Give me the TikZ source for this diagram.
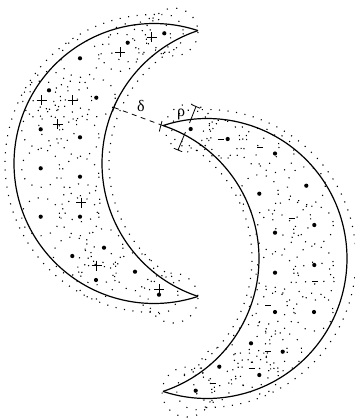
\documentclass[tikz,border=0pt]{standalone}
\usepackage{fontspec}
\newfontfamily\greekfont{Liberation Serif}
\begin{document}
\begin{tikzpicture}[x=1pt,y=-1pt,
  arcline/.style={line width=1.2pt},
  dotline/.style={line width=1.1pt, dash pattern=on 1.1pt off 8.5pt},
  envline/.style={line width=1.1pt, dash pattern=on 1.1pt off 7.5pt},
  dimline/.style={line width=0.8pt},
  chargemark/.style={line width=0.9pt},
  dashline/.style={line width=0.8pt, dash pattern=on 5pt off 4.5pt},
  lbl/.style={inner sep=0pt, font=\greekfont\fontsize{16}{18}\selectfont}]
\useasboundingbox (0,0) rectangle (354,418);
% dotted circles around points
\foreach \x/\y in {164.3/33.3,127.7/42.7,80/58.3,49/90.3,96.3/97.7,40.7/129.3,80/137.3,40.7/168.3,80/176.7,80/216.7,40.7/216.7,104/247.7,72.3/256,96/280,135/271.7,159/294.7,
  151.7/37.3,120/52.3,41.7/100,72.7/100,57.7/124,81/202.7,96.7/265.7,
  190.7/129,227.7/139,275/153.5,306.3/185.7,259.3/193.7,314.3/225,275/232.7,314.3/265,275/272.7,275/312,314/312,251/343.3,282.7/351.7,219.3/366.7,259.3/375,195.7/390.7,
  220.7/139,260/147,291.7/218.3,315/281,268.3/305,268.3/351.7,251.7/368.3,212.7/383.3}
  \draw[dotline] (\x,\y) circle[radius=19];
% tip caps
\draw[dotline] (174,32) circle[radius=24];
\draw[dotline] (173,298) circle[radius=25];
\draw[dotline] (187,392) circle[radius=25];
\draw[dotline] (189,128) circle[radius=24];
% envelopes
\draw[envline] plot[domain=88:272, samples=90] ({154+149*cos(\x)},{163.5+149*sin(\x)});
\draw[envline] plot[domain=118:242, samples=70] ({242+133*cos(\x)},{163.5+133*sin(\x)});
\draw[envline] plot[domain=-92:92, samples=90] ({207+149*cos(\x)},{258.5+149*sin(\x)});
\draw[envline] plot[domain=-62:62, samples=70] ({119+133*cos(\x)},{258.5+133*sin(\x)});
% crescents
\draw[arcline] plot[domain=71.68:288.32, samples=150] ({154+140*cos(\x)},{163.5+140*sin(\x)});
\draw[arcline] plot[domain=108.32:251.68, samples=150] ({242+140*cos(\x)},{163.5+140*sin(\x)});
\draw[arcline] plot[domain=-108.32:108.32, samples=150] ({207+140*cos(\x)},{258.5+140*sin(\x)});
\draw[arcline] plot[domain=-71.68:71.68, samples=150] ({119+140*cos(\x)},{258.5+140*sin(\x)});
% big dots
\foreach \x/\y in {164.3/33.3,127.7/42.7,80/58.3,49/90.3,96.3/97.7,40.7/129.3,80/137.3,40.7/168.3,80/176.7,80/216.7,40.7/216.7,104/247.7,72.3/256,96/280,135/271.7,159/294.7,
  190.7/129,227.7/139,275/153.5,306.3/185.7,259.3/193.7,314.3/225,275/232.7,314.3/265,275/272.7,275/312,314/312,251/343.3,282.7/351.7,219.3/366.7,259.3/375,195.7/390.7}
  \fill (\x,\y) circle[radius=2.1];
% plus signs
\foreach \x/\y in {151.7/37.3,120/52.3,41.7/100,72.7/100,57.7/124,81/202.7,96.7/265.7,159.3/289.3}
  \draw[chargemark] (\x-5,\y) -- (\x+5,\y) (\x,\y-5) -- (\x,\y+5);
% minus signs
\foreach \x/\y in {220.7/139,260/147,291.7/218.3,315/281,268.3/305,268.3/351.7,251.7/368.3,212.7/383.3}
  \draw[chargemark] (\x-3,\y) -- (\x+3,\y);
% delta
\coordinate (dA) at (114,107.5);
\coordinate (dB) at (163,125.6);
\draw[dashline] (dA) -- (dB);
\draw[dimline] (112.6,111.5) -- (115.4,103.6);
\draw[dimline] (162,121) -- (159.3,131.5);
\node[lbl] (delta) at (141,106) {δ};
% rho
\coordinate (r1) at (189.5,123);
\coordinate (r2) at (196,106.5);
\draw[dimline] (r1) -- (r2);
\draw[dimline] (191.9,104.7) -- (200.1,108.3);
\coordinate (r3) at (185.5,132);
\coordinate (r4) at (178,150);
\draw[dimline] (r3) -- (r4);
\draw[dimline] (173.9,148.3) -- (182.1,151.7);
\node[lbl] (rho) at (181,114) {ρ};
\end{tikzpicture}
\end{document}
